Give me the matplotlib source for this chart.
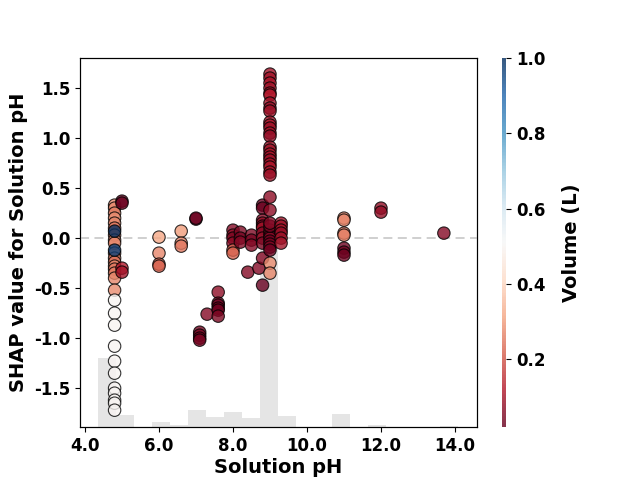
import numpy as np
import matplotlib
matplotlib.use("Agg")
import matplotlib.pyplot as plt

# points: (pH, SHAP value, volume)
ph_48 = [4.8] * 30
shap_48 = [0.33, 0.30, 0.25, 0.20, 0.15, 0.10, 0.03, -0.02, -0.05, -0.15, -0.20,
           -0.24, -0.28, -0.31, -0.35, -0.40, -0.52,
           0.07, -0.12,
           -0.62, -0.75, -0.87, -1.08, -1.23, -1.35, -1.50, -1.55, -1.62, -1.65, -1.72]
vol_48 = [0.28, 0.27, 0.26, 0.28, 0.27, 0.25, 0.26, 0.28, 0.27, 0.25, 0.26,
          0.24, 0.27, 0.25, 0.26, 0.27, 0.28,
          1.0, 0.97,
          0.5, 0.5, 0.5, 0.5, 0.5, 0.5, 0.5, 0.5, 0.5, 0.5, 0.5]

ph_mid = [5.0, 5.0, 5.0, 5.0,
          6.0, 6.0, 6.0, 6.0,
          6.6, 6.6, 6.6,
          7.0, 7.0,
          7.1, 7.1, 7.1, 7.1,
          7.3,
          7.6, 7.6, 7.6, 7.6, 7.6, 7.6,
          8.0, 8.0, 8.0, 8.0, 8.0, 8.0,
          8.2, 8.2, 8.2,
          8.5, 8.5, 8.5, 8.4,
          8.7,
          8.8, 8.8, 8.8, 8.8, 8.8, 8.8, 8.8, 8.8, 8.8, 8.8, 8.8]
shap_mid = [0.37, 0.35, -0.30, -0.34,
            0.01, -0.15, -0.26, -0.28,
            0.07, -0.05, -0.08,
            0.19, 0.20,
            -0.94, -0.97, -1.00, -1.02,
            -0.76,
            -0.54, -0.65, -0.67, -0.70, -0.72, -0.78,
            0.08, 0.03, 0.00, -0.05, -0.12, -0.15,
            0.06, 0.00, -0.04,
            0.03, -0.02, -0.07, -0.34,
            -0.30,
            0.33, 0.30, 0.18, 0.15, 0.12, 0.10, 0.05, 0.00, -0.05, -0.20, -0.47]
vol_mid = [0.03, 0.03, 0.12, 0.10,
           0.32, 0.27, 0.22, 0.22,
           0.30, 0.27, 0.25,
           0.03, 0.03,
           0.04, 0.04, 0.04, 0.04,
           0.06,
           0.07, 0.04, 0.03, 0.04, 0.03, 0.05,
           0.06, 0.08, 0.05, 0.07, 0.22, 0.22,
           0.05, 0.04, 0.06,
           0.05, 0.04, 0.06, 0.06,
           0.06,
           0.02, 0.03, 0.06, 0.08, 0.05, 0.10, 0.06, 0.08, 0.05, 0.06, 0.02]

ph_9 = [9.0] * 37 + [9.3] * 6
shap_9 = [1.64, 1.60, 1.55, 1.50, 1.45, 1.43, 1.35, 1.30, 1.27, 1.16, 1.13, 1.10,
          1.05, 1.02, 0.91, 0.88, 0.84, 0.81, 0.78, 0.74, 0.71, 0.66, 0.63,
          0.41, 0.28,
          0.08, 0.05, 0.02, 0.00, -0.03, -0.06, -0.09, -0.12,
          -0.25, -0.35, 0.12, 0.15,
          0.15, 0.12, 0.08, 0.05, 0.00, -0.05]
vol_9 = [0.10, 0.10, 0.11, 0.09, 0.10, 0.12, 0.10, 0.08, 0.09, 0.10, 0.11, 0.09,
         0.10, 0.08, 0.09, 0.10, 0.11, 0.10, 0.09, 0.10, 0.11, 0.10, 0.09,
         0.07, 0.07,
         0.25, 0.05, 0.04, 0.06, 0.03, 0.04, 0.05, 0.03,
         0.28, 0.27, 0.04, 0.06,
         0.10, 0.09, 0.10, 0.08, 0.09, 0.10]

ph_hi = [11.0, 11.0, 11.0, 11.0, 11.0, 11.0, 11.0, 12.0, 12.0, 13.7]
shap_hi = [0.20, 0.18, 0.05, 0.03, -0.10, -0.14, -0.17, 0.30, 0.26, 0.05]
vol_hi = [0.27, 0.27, 0.25, 0.26, 0.03, 0.03, 0.03, 0.08, 0.08, 0.06]

# background histogram of pH (counts per bin)
hist_counts = [68, 12, 0, 5, 2, 17, 10, 15, 9, 200, 11, 0, 0, 13, 0, 2, 0, 0, 0, 1, 0]
hist_lo, hist_bin = 4.35, 0.486

ph = ph_48 + ph_mid + ph_9 + ph_hi
shap = shap_48 + shap_mid + shap_9 + shap_hi
vol = vol_48 + vol_mid + vol_9 + vol_hi

fig = plt.figure(figsize=(6.4, 4.8), dpi=100)
ax = fig.add_axes([0.125, 0.110, 0.620, 0.769])
cax = fig.add_axes([0.784, 0.110, 0.0068, 0.769])

# histogram on a twin axis behind the dots
ax2 = ax.twinx()
edges = hist_lo + hist_bin * np.arange(len(hist_counts) + 1)
ax2.bar(edges[:-1], hist_counts, width=hist_bin, align="edge",
        color="#000000", alpha=0.1, linewidth=0)
ax2.set_ylim(0, sum(hist_counts))
ax2.set_yticks([])
ax.set_zorder(ax2.get_zorder() + 1)
ax.patch.set_visible(False)

ax.axhline(0, color="#cccccc", lw=1.3, ls=(0, (5, 3)), zorder=0)
sc = ax.scatter(ph, shap, c=vol, cmap="RdBu", vmin=0.02, vmax=1.0,
                s=80, alpha=0.8, edgecolors="black", linewidths=0.8, zorder=3)

ax.set_xlim(3.865, 14.59)
ax.set_ylim(-1.89, 1.80)
ax.set_xticks([4, 6, 8, 10, 12, 14])
ax.set_xticklabels(["4.0", "6.0", "8.0", "10.0", "12.0", "14.0"])
ax.set_yticks([-1.5, -1.0, -0.5, 0.0, 0.5, 1.0, 1.5])
ax.set_yticklabels(["-1.5", "-1.0", "-0.5", "0.0", "0.5", "1.0", "1.5"])
for lab in ax.get_xticklabels() + ax.get_yticklabels():
    lab.set_fontweight("bold")
    lab.set_fontsize(12)
ax.set_xlabel("Solution pH", fontsize=14, fontweight="bold", labelpad=2)
ax.set_ylabel("SHAP value for Solution pH", fontsize=14, fontweight="bold")

cb = fig.colorbar(sc, cax=cax, ticks=[0.2, 0.4, 0.6, 0.8, 1.0])
cb.outline.set_visible(False)
cb.ax.tick_params(labelsize=12)
for lab in cb.ax.get_yticklabels():
    lab.set_fontweight("bold")
cb.set_label("Volume (L)", fontsize=14, fontweight="bold", labelpad=12)

fig.savefig("out.png", dpi=100)
